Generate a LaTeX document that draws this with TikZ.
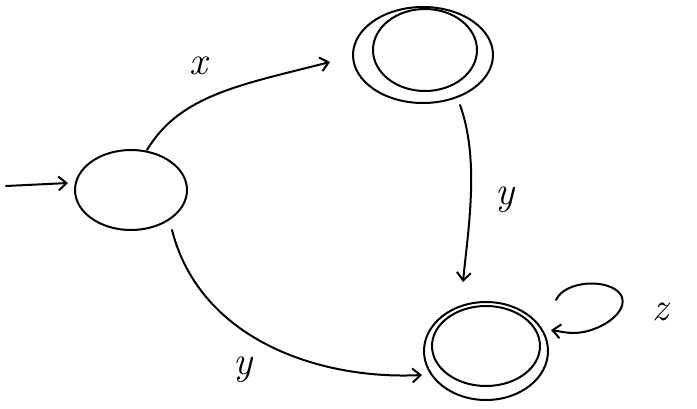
\documentclass[tikz,border=0pt]{standalone}
\usetikzlibrary{arrows.meta,shapes.geometric}
\begin{document}
\begin{tikzpicture}[x=1pt,y=-1pt,
  stroke/.style={line width=2pt,line cap=round,line join=round},
  arr/.style={stroke,-{Straight Barb[length=8pt,width=14pt,line width=2pt]}},
  lbl/.style={font=\fontsize{40}{46}\selectfont\itshape,inner sep=0pt}]
\useasboundingbox (0,0) rectangle (697,408);
% states
\node[stroke,draw,ellipse,minimum width=112pt,minimum height=80pt,inner sep=0pt] (s0) at (131,190) {};
\node[stroke,draw,ellipse,minimum width=140pt,minimum height=96pt,inner sep=0pt] (s1) at (423,55) {};
\node[stroke,draw,ellipse,minimum width=104pt,minimum height=82pt,inner sep=0pt] (s1i) at (425,50) {};
\node[stroke,draw,ellipse,minimum width=124pt,minimum height=98pt,inner sep=0pt] (s2) at (486,351) {};
\node[stroke,draw,ellipse,minimum width=108pt,minimum height=80pt,inner sep=0pt] (s2i) at (486,346) {};
% coordinates
\coordinate (init) at (6,186);
\coordinate (a0) at (147,150);
\coordinate (a1) at (330,62);
\coordinate (b0) at (460,105);
\coordinate (b1) at (463,282);
\coordinate (c0) at (172,230);
\coordinate (c1) at (422,375);
\coordinate (l0) at (556,300);
\coordinate (l1) at (551,330);
% edges
\draw[arr] (init) -- (68,183);
\draw[arr] (a0) .. controls (180,95) and (240,85) .. (a1);
\draw[arr] (b0) .. controls (480,160) and (468,230) .. (b1);
\draw[arr] (c0) .. controls (200,340) and (320,380) .. (c1);
\draw[arr] (l0) .. controls (565,280) and (610,278) .. (621,295) .. controls (630,312) and (600,332) .. (575,333) .. controls (565,333) and (558,331) .. (l1);
% labels
\node[lbl] (lx) at (198,66) {x};
\node[lbl] (ly1) at (505,200) {y};
\node[lbl] (ly2) at (243,370) {y};
\node[lbl] (lz) at (660,312) {z};
\end{tikzpicture}
\end{document}
